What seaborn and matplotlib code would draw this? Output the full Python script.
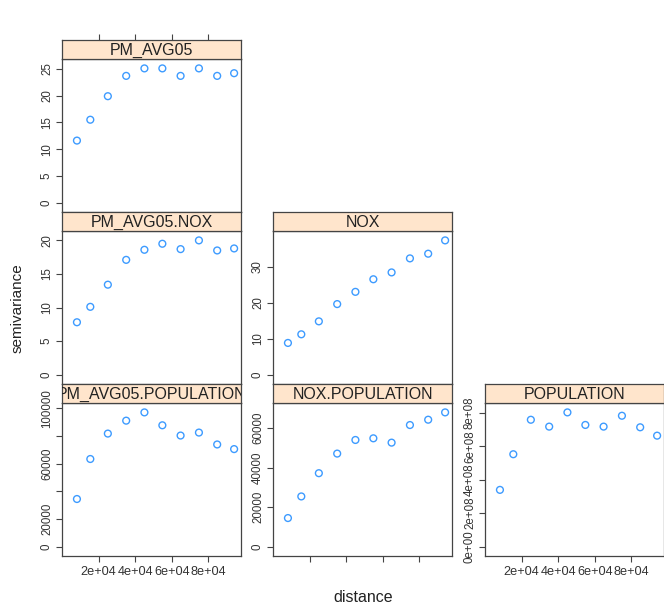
import pandas as pd
import matplotlib
matplotlib.use("Agg")
import matplotlib.pyplot as plt
import seaborn as sns

# lag distances (shared by every panel)
dist = [8170, 15480, 25070, 35100, 45070, 54880, 64850, 74880, 84860, 94120]

# semivariance per (cross-)variogram
gamma_pm = [11.6, 15.5, 19.9, 23.7, 25.1, 25.1, 23.7, 25.1, 23.7, 24.2]
gamma_pm_nox = [7.8, 10.1, 13.4, 17.1, 18.6, 19.5, 18.7, 20.0, 18.5, 18.8]
gamma_nox = [8.8, 11.2, 14.8, 19.6, 23.0, 26.5, 28.4, 32.3, 33.6, 37.3]
gamma_pm_pop = [34450, 63400, 81800, 91150, 97130, 87800, 80380, 82530, 73920, 70570]
gamma_nox_pop = [14450, 25380, 37140, 47060, 53950, 54790, 52600, 61510, 64200, 67900]
gamma_pop = [3.39e8, 5.52e8, 7.58e8, 7.17e8, 8.02e8, 7.27e8, 7.17e8, 7.82e8, 7.13e8, 6.63e8]

panel_names = ["PM_AVG05", "PM_AVG05.NOX", "NOX",
               "PM_AVG05.POPULATION", "NOX.POPULATION", "POPULATION"]
panel_gammas = [gamma_pm, gamma_pm_nox, gamma_nox,
                gamma_pm_pop, gamma_nox_pop, gamma_pop]

x_ticks = [20000, 40000, 60000, 80000]
x_ticklabels = ["2e+04", "4e+04", "6e+04", "8e+04"]

y_ticks = {
    "PM_AVG05": [0, 5, 10, 15, 20, 25],
    "PM_AVG05.NOX": [0, 5, 10, 15, 20],
    "NOX": [0, 10, 20, 30],
    "PM_AVG05.POPULATION": [0, 20000, 40000, 60000, 80000, 100000],
    "NOX.POPULATION": [0, 20000, 40000, 60000],
    "POPULATION": [0, 2e8, 4e8, 6e8, 8e8],
}
y_ticklabels = {
    "PM_AVG05": ["0", "5", "10", "15", "20", "25"],
    "PM_AVG05.NOX": ["0", "5", "10", "15", "20"],
    "NOX": ["0", "10", "20", "30"],
    "PM_AVG05.POPULATION": ["0", "20000", "", "60000", "", "100000"],
    "NOX.POPULATION": ["0", "20000", "40000", "60000"],
    "POPULATION": ["0e+00", "2e+08", "4e+08", "6e+08", "8e+08"],
}

df = pd.concat(
    [pd.DataFrame({"dist": dist, "gamma": g, "id": n})
     for n, g in zip(panel_names, panel_gammas)],
    ignore_index=True)

sns.set_style("white")
plt.rcParams["font.family"] = ["Liberation Sans", "DejaVu Sans"]

W, H = 664, 609
fig = plt.figure(figsize=(W / 100, H / 100), dpi=100)

# lattice-like layout, lower triangle of a 3x3 grid
col_left = [62, 273, 485]
row_top = [40, 212, 384]
pw, ph, sh = 179, 153, 19
positions = [(0, 0), (1, 0), (1, 1), (2, 0), (2, 1), (2, 2)]

xmax = 1.04 * max(dist)
strip_col = "#FFE5CC"
pt_col = "#3D9BFF"
frame_col = "#444444"

for name, (r, c) in zip(panel_names, positions):
    sub = df[df["id"] == name]
    x0 = col_left[c]
    top = row_top[r]
    ax = fig.add_axes([x0 / W, 1 - (top + sh + ph) / H, pw / W, ph / H])
    sns.scatterplot(data=sub, x="dist", y="gamma", ax=ax, marker="o",
                    s=24, facecolors="none", edgecolor=pt_col, linewidth=1.0,
                    legend=False)
    ymax = sub["gamma"].max()
    ax.set_xlim(0, xmax)
    ax.set_ylim(-0.07 * ymax, 1.07 * ymax)
    ax.set_xlabel("")
    ax.set_ylabel("")
    ax.set_yticks(y_ticks[name])
    ax.set_yticklabels(y_ticklabels[name], rotation=90, va="center")
    ax.tick_params(axis="y", length=4.5, width=0.8,
                   pad=2, labelsize=8.3, left=True, colors=frame_col,
                   labelcolor="#333333")
    if r == 2:
        ax.set_xticks(x_ticks)
        ax.set_xticklabels(x_ticklabels if c != 1 else [""] * 4)
        ax.tick_params(axis="x", length=4.5, width=0.8, pad=3,
                       labelsize=9.2, bottom=True, colors=frame_col,
                       labelcolor="#333333")
    else:
        ax.set_xticks([])
    for sp in ax.spines.values():
        sp.set_color(frame_col)
        sp.set_linewidth(0.9)
    ax.grid(False)

    # strip on top of the panel
    sax = fig.add_axes([x0 / W, 1 - (top + sh) / H, pw / W, sh / H])
    sax.set_facecolor(strip_col)
    sax.set_xlim(0, xmax)
    sax.set_ylim(0, 1)
    sax.set_yticks([])
    if r == 0:
        sax.set_xticks(x_ticks)
        sax.set_xticklabels([])
        sax.tick_params(axis="x", top=True, bottom=False, length=4.5,
                        width=0.8, direction="out", colors=frame_col)
    else:
        sax.set_xticks([])
    for sp in sax.spines.values():
        sp.set_color(frame_col)
        sp.set_linewidth(0.9)
    sax.text(0.5, 0.45, name, transform=sax.transAxes, ha="center",
             va="center", fontsize=11.5, color="#222222", clip_on=True)

fig.text(363 / W, 1 - 598 / H, "distance", ha="center", va="center",
         fontsize=11.5, color="#222222")
fig.text(18 / W, 1 - 308 / H, "semivariance", ha="center", va="center",
         rotation=90, fontsize=11, color="#222222")

fig.savefig("out.png", dpi=100)
plt.close(fig)
